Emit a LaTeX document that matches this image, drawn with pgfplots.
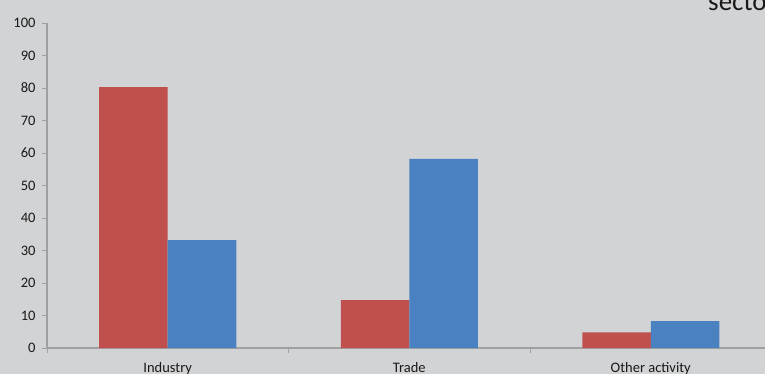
\documentclass[border=0pt]{standalone}
\usepackage{pgfplots}
\pgfplotsset{compat=1.18}
\usepackage{fontspec}
\setmainfont{Carlito}
\definecolor{bgcol}{RGB}{210,211,213}
\definecolor{axcol}{RGB}{160,160,160}
\definecolor{redbar}{RGB}{192,80,77}
\definecolor{bluebar}{RGB}{74,129,192}
\definecolor{txt}{RGB}{25,25,25}
\begin{document}
\begin{tikzpicture}
% page frame: lower left corner of the axis box sits at (0,0)
\clip (-47bp,-26bp) rectangle (718bp,348bp);
\fill[bgcol] (-47bp,-26bp) rectangle (718bp,348bp);
\begin{axis}[
  at={(0,0)}, anchor=south west,
  scale only axis,
  width=724.5bp, height=325bp,
  xmin=-0.5, xmax=2.5, ymin=0, ymax=100,
  ybar=0pt, bar width=68.5bp,
  axis lines*=left,
  axis line style={axcol, line width=1.2bp},
  every tick/.style={axcol, line width=0.9bp},
  ytick={0,10,...,100},
  major tick length=5bp,
  tick align=outside,
  xtick={-0.5,0.5,1.5,2.5},
  xticklabels={},
  extra x ticks={0,1,2},
  extra x tick labels={Industry,Trade,Other activity},
  extra x tick style={major tick length=0pt, tick label style={yshift=-11bp}},
  tick label style={font=\fontsize{14.5bp}{17bp}\selectfont, text=txt},
  yticklabel style={xshift=-3bp},
  /pgf/number format/assume math mode=true,
  clip=false,
]
\addplot[fill=redbar, draw=none] coordinates {(0,80.3) (1,14.7) (2,4.8)};
\addplot[fill=bluebar, draw=none] coordinates {(0,33.2) (1,58.2) (2,8.3)};
\end{axis}
\node[anchor=base west, inner sep=0, text=txt] at (661bp,337bp) {\fontsize{27bp}{31bp}\selectfont sector};
\end{tikzpicture}
\end{document}
